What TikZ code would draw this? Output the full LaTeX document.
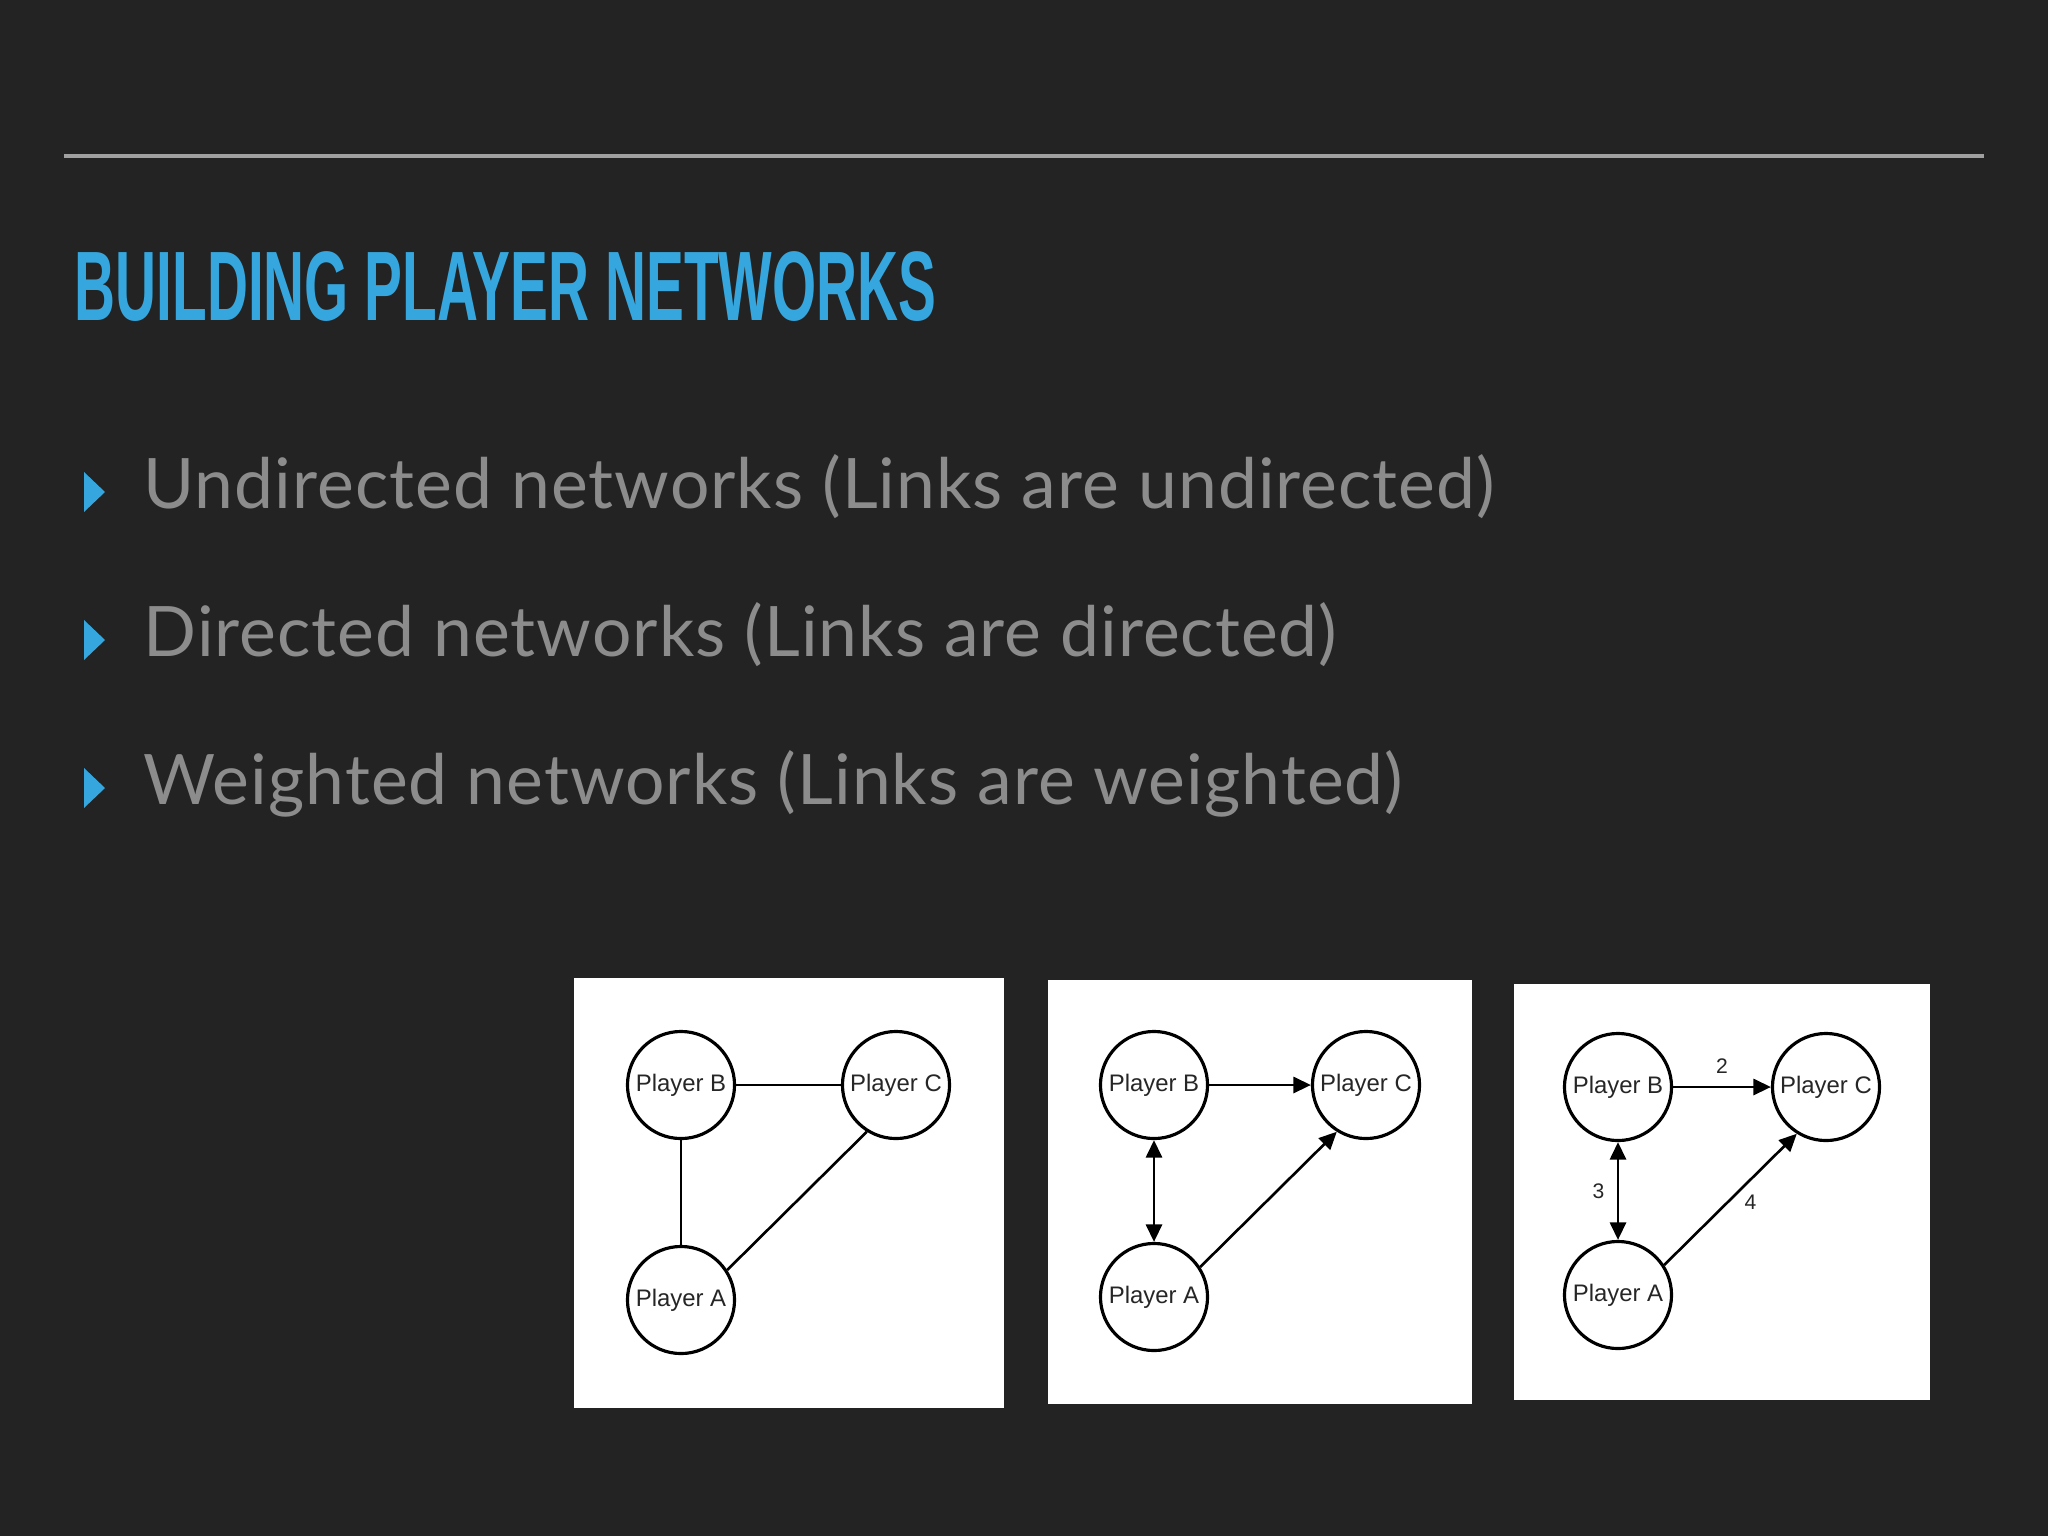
\documentclass[tikz,border=0pt]{standalone}
\usepackage{fontspec}
\usepackage{graphicx}
\setmainfont{Lato}
\newfontfamily\graphfont{Liberation Sans}
\usetikzlibrary{positioning,arrows.meta}
\definecolor{slidebg}{HTML}{232323}
\definecolor{titleblue}{HTML}{36A7DE}
\definecolor{bulletgray}{HTML}{8C8C8C}
\definecolor{rulegray}{HTML}{A0A0A0}

\begin{document}
\begin{tikzpicture}[x=0.01cm, y=-0.01cm, >={Triangle[length=5pt,width=4.6pt]},
    player/.style={draw, circle, line width=0.9pt, minimum size=1.07cm, inner sep=0pt,
        text=black!85, font=\graphfont\fontsize{6.8}{8}\selectfont},
    link/.style={line width=0.75pt},
    weight/.style={inner sep=1.5pt, text=black!85, font=\graphfont\fontsize{6}{7}\selectfont},
    item/.style={anchor=base west, inner sep=0pt, text=bulletgray,
        font=\addfontfeature{LetterSpace=1.5}\fontsize{19.8}{23}\selectfont},
    panel/.style={fill=white}]
    \path[use as bounding box, fill=slidebg] (0,0) rectangle (2048,1536);
    
    % header
    \draw[rulegray, line width=1.2pt] (64,156) -- (1984,156);
    \node[anchor=base west, inner sep=0pt, text=titleblue,
        font=\graphfont\bfseries] (title) at (74,320)
        {\resizebox{245pt}{19.6pt}{BUILDING PLAYER NETWORKS}};
    
    % bullet points
    \fill[titleblue] (84,472) -- (105,492) -- (84,512) -- cycle;
    \node[item] (undirected) at (143,508) {Undirected networks (Links are undirected)};
    \fill[titleblue] (84,620) -- (105,640) -- (84,660) -- cycle;
    \node[item] (directed) at (143,656) {Directed networks (Links are directed)};
    \fill[titleblue] (84,768) -- (105,788) -- (84,808) -- cycle;
    \node[item] (weighted) at (143,804) {Weighted networks (Links are weighted)};
    
    % undirected
    \fill[panel] (574,978) rectangle (1004,1408);
    \node[player] (b1) at (681,1085) {Player B};
    \node[player] (c1) at (896,1085) {Player C};
    \node[player] (a1) at (681,1300) {Player A};
    \draw[link] (b1) -- (c1);
    \draw[link] (b1) -- (a1);
    \draw[link] (a1.33) -- (c1.238);
    
    % directed
    \fill[panel] (1048,980) rectangle (1472,1404);
    \node[player] (b2) at (1154,1085) {Player B};
    \node[player] (c2) at (1366,1085) {Player C};
    \node[player] (a2) at (1154,1297) {Player A};
    \draw[link, ->] (b2) -- (c2);
    \draw[link, <->] (b2) -- (a2);
    \draw[link, ->] (a2.33) -- (c2.238);
    
    % weighted
    \fill[panel] (1514,984) rectangle (1930,1400);
    \node[player] (b3) at (1618,1087) {Player B};
    \node[player] (c3) at (1826,1087) {Player C};
    \node[player] (a3) at (1618,1295) {Player A};
    \draw[link, ->] (b3) -- node[weight, above=2pt] {2} (c3);
    \draw[link, <->] (b3) -- node[weight, left=2pt] {3} (a3);
    \draw[link, ->] (a3.33) -- node[weight, xshift=5.7pt, yshift=-0.9pt] {4} (c3.238);
\end{tikzpicture}
\end{document}
